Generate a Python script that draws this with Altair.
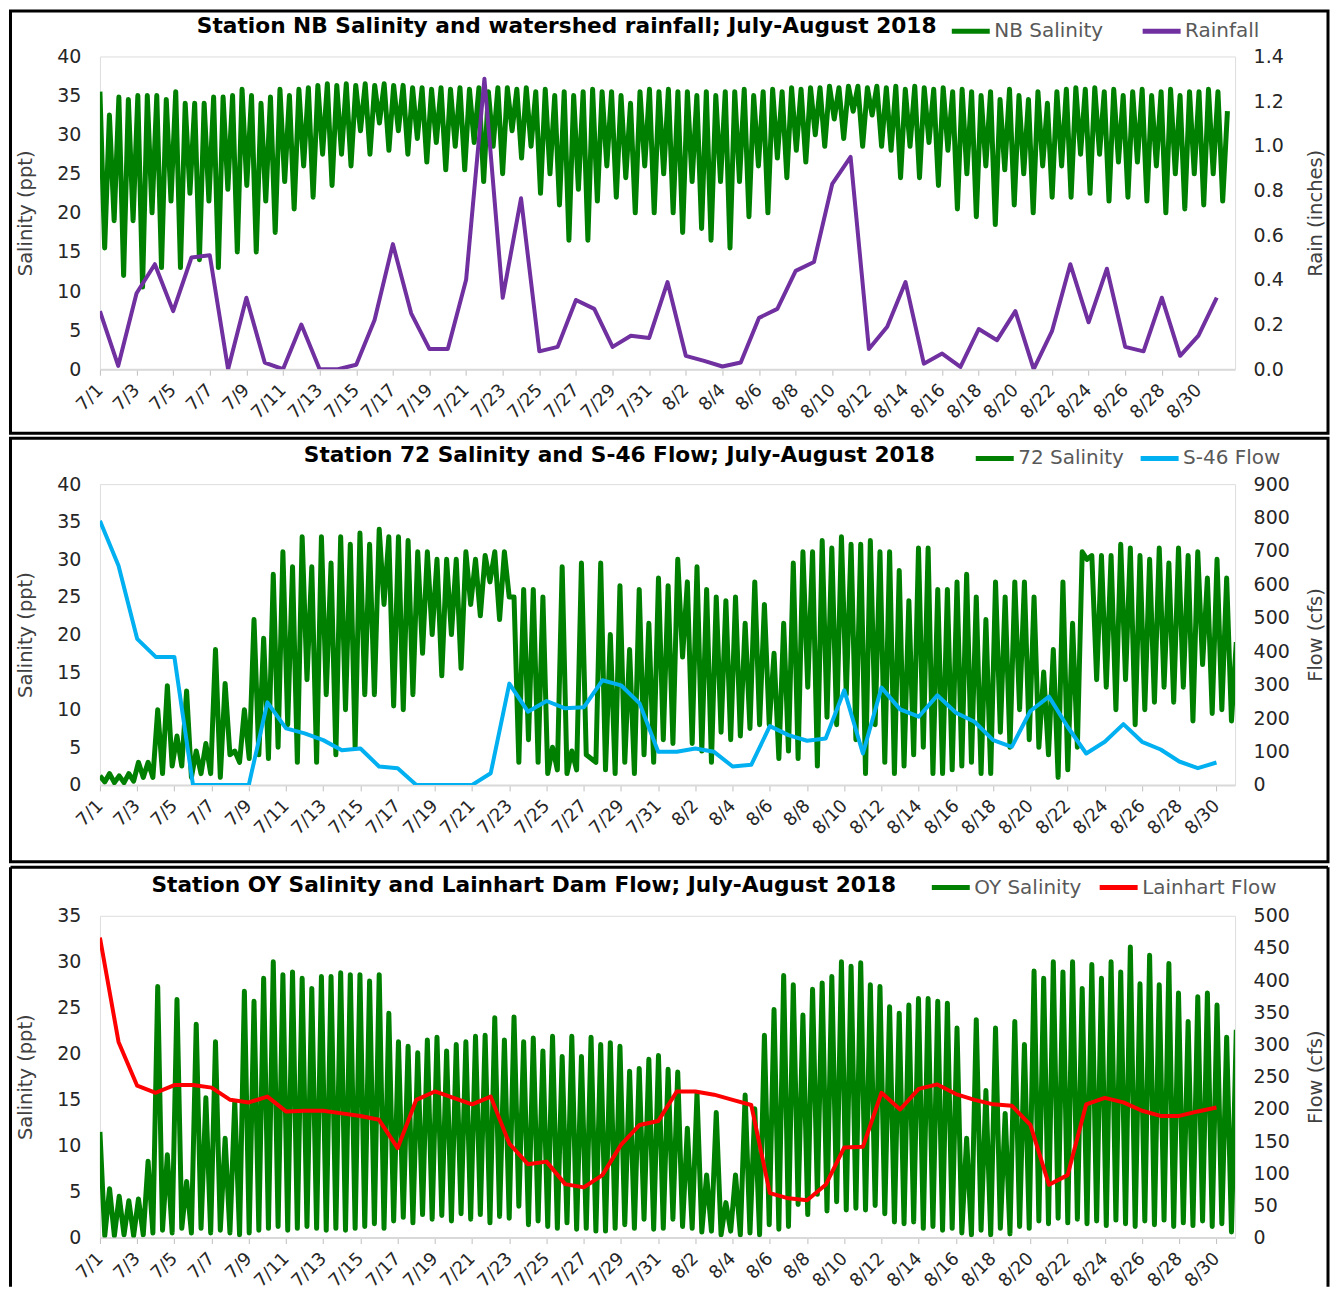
import json
import altair as alt
import pandas as pd

FONT = "DejaVu Sans"
TXT = "#262626"
TIDE = 0.5175  # days per tidal (M2) cycle: one high and one low per cycle

tick_labels = ["7/1", "7/3", "7/5", "7/7", "7/9", "7/11", "7/13", "7/15", "7/17", "7/19",
               "7/21", "7/23", "7/25", "7/27", "7/29", "7/31", "8/2", "8/4", "8/6", "8/8",
               "8/10", "8/12", "8/14", "8/16", "8/18", "8/20", "8/22", "8/24", "8/26", "8/28", "8/30"]

# ---------------- Station NB (tidal highs / lows, ppt) ----------------
nb_high = [35.5, 32.5, 34.8, 34.5, 35, 35, 35, 34.5, 35.5, 34, 34, 34, 34.8, 34.8, 35, 35.8, 35, 34, 34.8, 35.8,
           35, 35.8, 36, 36.3, 36.5, 36.3, 36.5, 36.3, 36.5, 36.3, 36.5, 36.3, 36.3, 36, 36, 35.8, 36, 35.8, 36, 35.8,
           36, 35.5, 36, 36, 35.8, 36, 35.5, 35.8, 35, 35.5, 35, 35.5, 35.8, 35.5, 35.5, 35, 34, 35.5, 35.8, 35.5,
           35.8, 35.5, 35.5, 35, 35.5, 35, 35.5, 35.5, 35.8, 35, 35.5, 35.8, 35.5, 36, 35.8, 36, 36, 36.2, 36, 36.2,
           36.2, 36, 36.2, 36, 36.2, 35.8, 36.2, 36, 35.8, 36, 35.5, 35.8, 35.5, 35, 35.5, 34.5, 35.8, 35, 34.5, 35.5,
           34, 35.5, 35.8, 36, 35.8, 36, 35.5, 35.8, 35, 35.5, 35.8, 35, 35.5, 35.8, 35, 35.5, 35.5, 35.8, 35.5, 33]
nb_low = [15.5, 19, 12, 19, 10.5, 20, 13, 21.5, 13, 22.5,
          14, 21.5, 13, 23, 15, 23.5, 15, 21.5, 17.5, 24,
          20.5, 26, 22, 27.5, 23.5, 27.5, 26, 30.5, 27.5, 31.5,
          28, 30.5, 27.5, 29.5, 26.5, 29, 25.5, 28.5, 25.5, 29,
          24, 28.5, 25, 30.5, 27, 28.5, 22.5, 25, 21, 16.5,
          23, 16.5, 21.5, 26, 22, 24.5, 20, 26, 20, 25,
          20, 17.5, 24, 18, 16.5, 24, 15.5, 24, 19.5, 26,
          20, 27, 24.5, 28, 26.5, 30, 28.5, 32, 29.5, 33,
          28.5, 32.5, 28.5, 28, 24.5, 28.5, 24.5, 29, 23.5, 28,
          20.5, 25, 19.5, 26, 18.5, 25.5, 21, 25, 20, 26,
          22, 26, 22, 27.5, 22.5, 27.5, 21.5, 26.5, 22, 26.5,
          21.5, 26, 20, 25, 20.5, 25, 21, 25, 21.5]
# daily watershed rainfall, 7/1 - 8/31 (inches)
rain = [0.26, 0.015, 0.34, 0.47, 0.26, 0.50, 0.51, 0.0, 0.32, 0.03, 0.0, 0.20, 0.0, 0.0, 0.02, 0.22,
        0.56, 0.25, 0.09, 0.09, 0.40, 1.30, 0.32, 0.765, 0.08, 0.10, 0.31, 0.27, 0.10, 0.15, 0.14,
        0.39, 0.06, 0.037, 0.012, 0.03, 0.23, 0.27, 0.44, 0.48, 0.83, 0.95, 0.09, 0.19, 0.39, 0.025,
        0.07, 0.01, 0.18, 0.13, 0.26, 0.0, 0.17, 0.47, 0.21, 0.45, 0.10, 0.08, 0.32, 0.06, 0.15, 0.32]

# ---------------- Station 72 ----------------
s72_high = [1.2, 1.5, 1.2, 1.5, 3, 3, 10, 13.2, 6.5, 12.5, 4.5, 5.5, 18, 13.5, 4.5, 10, 22, 19.5, 28, 31,
            29, 33, 29, 33, 29.5, 33, 32, 33.5, 32, 34, 33, 33, 32.5, 31, 31, 30, 30, 30, 31, 30,
            30.5, 31, 31, 25, 26, 26, 25, 5, 29, 4.5, 29.5, 3.5, 29.5, 20, 26.5, 18, 26, 21.5, 27.5, 26.5,
            30, 27, 29, 26, 25, 24.5, 25, 21.5, 27, 24, 17.5, 21.5, 29.5, 31, 31, 32.5, 31.5, 33, 32, 32,
            32.5, 31, 31, 28.5, 24.5, 31.5, 31.5, 26, 26, 27, 28, 25, 22, 27, 25, 27, 27, 25, 15, 18,
            27, 21.5, 31, 30.5, 30.5, 30.5, 32, 31.5, 30.5, 30, 31.5, 29.5, 31.5, 30.5, 31, 27.5, 30, 27.5, 19]
s72_low = [0.4, 0.3, 0.3, 0.5, 1, 1, 1.5, 2.5, 2.5, 1, 1.5, 1.5, 1, 4, 3, 3.5, 4, 3.5, 5, 8,
           3, 14, 3, 12, 4, 10, 5, 12, 12, 24, 10.5, 10, 12, 17.5, 20, 14.5, 20, 15.5, 24, 22.5,
           27, 22, 25, 3, 6, 3, 1.5, 2, 1.5, 2, 4, 3, 2, 1.5, 3, 1.5, 4, 3, 6, 5.5,
           17, 5.5, 4.5, 3, 7, 6, 6.5, 7.5, 8, 8, 3.5, 4.5, 3.5, 13, 2.5, 9, 8, 12, 6, 1.5,
           8, 3, 1.5, 2.5, 4, 5, 1.5, 1.5, 2, 2.5, 3, 1.5, 1.5, 7, 5, 10, 6, 5, 4, 1,
           2, 5, 30, 14, 13, 10, 14, 8, 10, 11, 13, 11, 13, 8.5, 16, 9.5, 10, 8.5]
# daily S-46 flow, 7/1 - 8/30 (cfs)
s46_flow = [790, 656, 437, 383, 383, 0, 0, 0, 0, 247, 169, 154, 134, 104, 109, 55, 50, 0, 0, 0, 0,
            35, 303, 219, 251, 229, 232, 313, 298, 244, 99,
            99, 109, 99, 55, 60, 176, 149, 132, 139, 283, 94, 291, 226, 204, 268, 216, 189, 134, 114,
            221, 264, 174, 94, 129, 182, 129, 106, 70, 50, 67]

# ---------------- Station OY ----------------
oy_high = [11.5, 5.3, 4.5, 4, 4.2, 8.3, 27.3, 9, 25.9, 6.1, 23.2, 15.2, 21.3, 10.8, 14.8, 26.8, 25.7, 28.2, 30, 28.6,
           28.9, 28.2, 27.1, 28.4, 28.4, 28.8, 28.6, 28.6, 27.9, 28.6, 24.4, 21.3, 20.8, 20.1, 21.5, 21.8, 20.3, 21, 21.3, 21.9,
           22, 23.9, 21.5, 24, 21.3, 21.7, 20.3, 21.9, 19.7, 21.9, 19.7, 21.8, 21, 21.2, 20.8, 18.1, 18.4, 19.4, 19.8, 18.3,
           18, 11.9, 15.7, 6.8, 13.6, 3.8, 6.8, 15.5, 14, 22, 24.8, 28.5, 27.5, 24.2, 27, 27.7, 28.4, 30, 29.5, 29.9,
           27.5, 27.3, 25.1, 24.4, 25.3, 26, 26, 25.7, 25.5, 22.8, 10.8, 23.7, 16, 22.8, 13.5, 23.5, 21, 29, 28.2, 30,
           28.9, 30, 27.1, 29.7, 28.2, 30, 28.9, 31.6, 27.6, 30.7, 27.5, 29.8, 26.6, 23.5, 26.2, 26.6, 25.3, 21.8, 22.6]
oy_low = [0.2, 0.2, 0.3, 0.2, 0.3, 0.5, 0.8, 0.5, 1, 0.5, 1, 0.5, 0.8, 0.5, 0.3, 0.5,
          0.8, 1, 1.2, 0.8, 1, 1.2, 1, 0.8, 1, 0.8, 1, 1.2, 1.5, 1,
          1.8, 2.2, 1.6, 2.5, 2, 2.4, 1.8, 2.6, 2, 2.5,
          1.6, 2.3, 2.1, 3.4, 1.4, 1.8, 1.2, 1, 1.6, 0.9, 1, 0.7, 0.7, 1, 1.4, 1, 2, 0.9, 1, 2,
          1.2, 1, 0.6, 0.7, 0.3, 0.7, 0.3, 0.5, 0.3, 1.4, 0.9, 1.2, 3.6, 2.5, 4.7, 2.9, 3.9, 3, 3.2, 3,
          3.5, 2.6, 1.7, 1.5, 1.7, 1, 1.2, 0.8, 1, 0.5, 0.3, 0.8, 0.3, 1, 0.4, 1.2, 1, 1.8, 1.5, 2.1,
          1.6, 2, 1.5, 1.8, 1.3, 1.9, 1.5, 1.2, 1.8, 1.4, 1.9, 1.2, 1.6, 1.3, 1.8, 1.2, 1.5, 0.6]
# daily Lainhart Dam flow, 7/1 - 8/30 (cfs)
lainhart_flow = [466, 304, 236, 225, 237, 237, 233, 214, 210, 219, 196, 197, 197, 193, 189, 183, 139,
                 214, 227, 217, 207, 219, 146, 114, 118, 83, 78, 97, 144, 175, 181,
                 227, 227, 222, 214, 206, 69, 61, 58, 82, 140, 141, 225, 199, 231, 238, 223, 214, 207,
                 205, 175, 82, 97, 207, 217, 210, 197, 189, 189, 196, 202]


def tidal(high, low, name):
    d, v = [], []
    for k, h in enumerate(high):
        d.append(k * TIDE)
        v.append(h)
        if k < len(low):
            d.append(k * TIDE + TIDE / 2)
            v.append(low[k])
    return pd.DataFrame({"d": d, "sal": v, "series": name})


def daily(values, name):
    return pd.DataFrame({"d": list(range(len(values))), "flow": values, "series": name})


ONE = pd.DataFrame({"a": [0]})
LABEL_EXPR = json.dumps(tick_labels) + "[round(datum.value / 2)]"
W = 1136
FX0, FX1 = -89.5, 1229   # panel frame, relative to the plot area


def x_axis():
    return alt.Axis(values=list(range(0, 61, 2)), labelExpr=LABEL_EXPR, labelAngle=-45,
                    labelAlign="right", labelBaseline="middle", labelPadding=12,
                    labelFontSize=18, labelColor=TXT, labelFont=FONT, labelOverlap=False,
                    labelFlush=False, ticks=True, tickColor="#bfbfbf", tickSize=6,
                    domain=True, domainColor="#d9d9d9", domainWidth=2, grid=False, title=None)


def panel(p):
    H = p["H"]
    xs = alt.Scale(domain=[0, p["xmax"]], nice=False, zero=False)
    color = alt.Color("series:N",
                      scale=alt.Scale(domain=[p["sal_name"], p["flow_name"]],
                                      range=["#008000", p["flow_color"]]),
                      legend=alt.Legend(orient="none", legendX=p["legX"], legendY=p["legY"],
                                        direction="horizontal", title=None, symbolType="stroke",
                                        symbolSize=1444, symbolStrokeWidth=5, labelOffset=2,
                                        columnPadding=p["colpad"], padding=0, rowPadding=0,
                                        labelFontSize=20, labelFont=FONT, labelColor="#595959"))
    fy0, fy1 = p["fy"]
    layers = []
    if p.get("open_bottom"):
        for enc in (dict(x=alt.value(FX0), x2=alt.value(FX1), y=alt.value(fy0)),
                    dict(x=alt.value(FX0), y=alt.value(fy0), y2=alt.value(fy1)),
                    dict(x=alt.value(FX1), y=alt.value(fy0), y2=alt.value(fy1))):
            layers.append(alt.Chart(ONE).mark_rule(color="black", strokeWidth=3).encode(**enc))
    else:
        layers.append(alt.Chart(ONE).mark_rect(fillOpacity=0, stroke="black", strokeWidth=3).encode(
            x=alt.value(FX0), x2=alt.value(FX1), y=alt.value(fy0), y2=alt.value(fy1)))
    layers.append(alt.Chart(ONE).mark_text(align="left", baseline="alphabetic", font=FONT,
                                           fontSize=21.7, fontWeight="bold", color="black").encode(
        x=alt.value(p["tx"]), y=alt.value(p["ty"]), text=alt.value(p["title"])))
    sal = alt.Chart(p["sal_df"]).mark_line(strokeWidth=5, strokeJoin="round", clip=True).encode(
        x=alt.X("d:Q", scale=xs, axis=x_axis()),
        y=alt.Y("sal:Q", scale=alt.Scale(domain=[0, p["smax"]], nice=False),
                axis=alt.Axis(orient="left", values=list(range(0, p["smax"] + 1, 5)), grid=False,
                              ticks=False, domain=False, labelFontSize=19, labelFont=FONT,
                              labelColor=TXT, labelPadding=19, title="Salinity (ppt)",
                              titleFont=FONT, titleFontSize=19.5, titleFontWeight="normal",
                              titleColor="#404040", titlePadding=21)),
        color=color)
    flow = alt.Chart(p["flow_df"]).mark_line(strokeWidth=4, strokeJoin="round", clip=True).encode(
        x=alt.X("d:Q", scale=xs, axis=x_axis()),
        y=alt.Y("flow:Q", scale=alt.Scale(domain=[0, p["fmax"]], nice=False),
                axis=alt.Axis(orient="right", values=p["fvals"], format=p["ffmt"], grid=False,
                              ticks=False, domain=False, labelFontSize=19, labelFont=FONT,
                              labelColor=TXT, labelPadding=18, title=p["ftitle"],
                              titleFont=FONT, titleFontSize=19.5, titleFontWeight="normal",
                              titleColor="#404040", titlePadding=p["ftpad"], titleAngle=270,
                              titleBaseline="top")),
        color=color)
    layers += [sal, flow]
    return alt.layer(*layers).resolve_scale(y="independent").properties(width=W, height=H)


p1 = panel(dict(H=313, xmax=62, sal_df=tidal(nb_high, nb_low, "NB Salinity"),
                flow_df=daily(rain, "Rainfall"),
                sal_name="NB Salinity", flow_name="Rainfall", flow_color="#7030A0",
                smax=40, fmax=1.4, fvals=[0, 0.2, 0.4, 0.6, 0.8, 1.0, 1.2, 1.4], ffmt=".1f",
                ftitle="Rain (inches)", ftpad=23,
                title="Station NB Salinity and watershed rainfall; July-August 2018", tx=97, ty=-23.3,
                legX=850, legY=-47, colpad=28, fy=(-45.5, 377)))
p2 = panel(dict(H=301, xmax=61, sal_df=tidal(s72_high, s72_low, "72 Salinity"),
                flow_df=daily(s46_flow, "S-46 Flow"),
                sal_name="72 Salinity", flow_name="S-46 Flow", flow_color="#00B0F0",
                smax=40, fmax=900, fvals=list(range(0, 901, 100)), ffmt="d",
                ftitle="Flow (cfs)", ftpad=17,
                title="Station 72 Salinity and S-46 Flow; July-August 2018", tx=204, ty=-22,
                legX=874, legY=-47.5, colpad=6, fy=(-46, 378)))
p3 = panel(dict(H=322, xmax=61, sal_df=tidal(oy_high, oy_low, "OY Salinity"),
                flow_df=daily(lainhart_flow, "Lainhart Flow"),
                sal_name="OY Salinity", flow_name="Lainhart Flow", flow_color="#FF0000",
                smax=35, fmax=500, fvals=list(range(0, 501, 50)), ffmt="d",
                ftitle="Flow (cfs)", ftpad=17,
                title="Station OY Salinity and Lainhart Dam Flow; July-August 2018", tx=51.6, ty=-23.4,
                legX=830, legY=-50, colpad=7, fy=(-48.7, 371.3), open_bottom=True))

chart = alt.vconcat(p1, p2, p3, spacing=1).resolve_scale(color="independent").properties(
    padding=0, background="white"
).configure_view(stroke="black", strokeWidth=1).configure(font=FONT)

chart.save("out.html", embed_options={"renderer": "svg", "actions": False})
